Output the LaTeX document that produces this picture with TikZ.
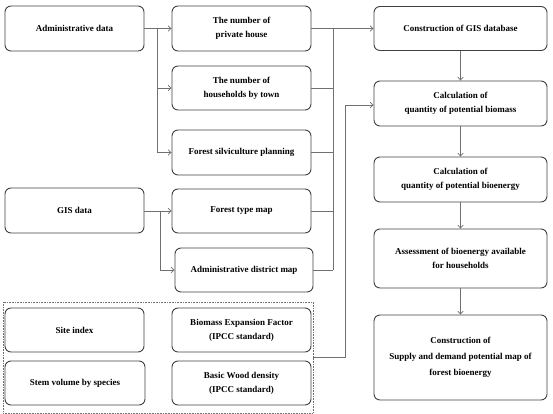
\documentclass[tikz,border=0pt]{standalone}
\usepackage{fontspec}
\setmainfont{Liberation Serif}
\usetikzlibrary{arrows.meta}
\definecolor{boxline}{HTML}{404040}
\definecolor{conn}{HTML}{707070}
\begin{document}
\begin{tikzpicture}[x=1pt,y=-1pt,
  box/.style={draw=boxline, line width=0.9pt, rounded corners=6pt, align=center,
    font=\fontsize{9}{14}\selectfont\bfseries, inner sep=2pt},
  conn/.style={draw=conn, line width=0.7pt},
  arr/.style={conn, -{Straight Barb[length=3pt,width=5.5pt]}},
  frame/.style={draw=conn, line width=0.6pt, densely dotted}]
\useasboundingbox (0,0) rectangle (553,414);
% left column
\node[box, minimum width=139pt, minimum height=45pt] (admin) at (74.5,28.5) {Administrative data};
\node[box, minimum width=139pt, minimum height=45pt] (gis) at (74.5,210.5) {GIS data};
% middle column
\node[box, minimum width=139pt, minimum height=45pt] (priv) at (241.5,28.5) {The number of\\private house};
\node[box, minimum width=139pt, minimum height=44pt] (hh) at (241.5,88) {The number of\\households by town};
\node[box, minimum width=139pt, minimum height=45pt] (silv) at (241.5,152.5) {Forest silviculture planning};
\node[box, minimum width=139pt, minimum height=44pt] (ftype) at (241.5,211) {Forest type map};
\node[box, minimum width=138pt, minimum height=44pt] (adm) at (244,270) {Administrative district map};
% right column
\node[box, minimum width=173pt, minimum height=44pt] (gisdb) at (460.5,28.5) {Construction of GIS database};
\node[box, minimum width=173pt, minimum height=45pt] (biomass) at (460.5,103.5) {Calculation of\\quantity of potential biomass};
\node[box, minimum width=173pt, minimum height=45pt] (bioenergy) at (460.5,179.5) {Calculation of\\quantity of potential bioenergy};
\node[box, minimum width=173pt, minimum height=59pt] (assess) at (460.5,258.5) {Assessment of bioenergy available\\for households};
\node[box, minimum width=173pt, minimum height=85pt, font=\fontsize{9}{16}\selectfont\bfseries] (supply) at (460.5,357.5) {Construction of\\Supply and demand potential map of\\forest bioenergy};
% bottom group
\node[frame, minimum width=310pt, minimum height=111pt, inner sep=0pt] (grp) at (158,357.5) {};
\node[box, minimum width=139pt, minimum height=44pt] (site) at (74.5,330) {Site index};
\node[box, minimum width=139pt, minimum height=44pt] (bef) at (241.5,330) {Biomass Expansion Factor\\(IPCC standard)};
\node[box, minimum width=140pt, minimum height=44pt] (stem) at (75,383) {Stem volume by species};
\node[box, minimum width=139pt, minimum height=44pt] (bwd) at (241.5,383) {Basic Wood density\\(IPCC standard)};
% connectors from administrative data
\coordinate (j1) at (157,28.5);
\draw[conn] (admin.east) -- (j1) -- (j1 |- silv.west);
\draw[arr] (j1) -- (priv.west);
\draw[arr] (j1 |- hh.west) -- (hh.west);
\draw[arr] (j1 |- silv.west) -- (silv.west);
% connectors from GIS data
\coordinate (j3) at (160,211);
\draw[conn] (gis.east |- j3) -- (j3) -- (j3 |- adm.west);
\draw[arr] (j3) -- (ftype.west);
\draw[arr] (j3 |- adm.west) -- (adm.west);
% collector to GIS database
\coordinate (j2) at (333,28.5);
\draw[arr] (priv.east) -- (gisdb.west);
\draw[conn] (j2) -- (j2 |- adm.east);
\draw[conn] (hh.east) -- (j2 |- hh.east);
\draw[conn] (silv.east) -- (j2 |- silv.east);
\draw[conn] (ftype.east) -- (j2 |- ftype.east);
\draw[conn] (adm.east) -- (j2 |- adm.east);
% group to biomass
\coordinate (j4) at (345,357);
\draw[arr] (grp.east |- j4) -- (j4) -- (345,105) -- (biomass.west |- 0,105);
% right column chain
\draw[arr] (gisdb) -- (biomass);
\draw[arr] (biomass) -- (bioenergy);
\draw[arr] (bioenergy) -- (assess);
\draw[arr] (assess) -- (supply);
\end{tikzpicture}
\end{document}
